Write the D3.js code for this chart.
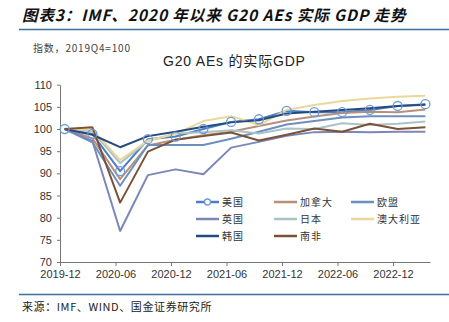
<!DOCTYPE html>
<html>
<head>
<meta charset="utf-8">
<script src="https://cdn.jsdelivr.net/npm/d3@7"></script>
<style>
body { margin: 0; background: #fff; }
svg { display: block; }
</style>
</head>
<body>
<svg id="chart"></svg>
<script>
var width = 449, height = 322;

// quarters 2019Q4 .. 2023Q1, index 2019Q4 = 100
var quarters = ["2019Q4","2020Q1","2020Q2","2020Q3","2020Q4","2021Q1","2021Q2","2021Q3","2021Q4","2022Q1","2022Q2","2022Q3","2022Q4","2023Q1"];
var tickLabels = ["2019-12","2020-06","2020-12","2021-06","2021-12","2022-06","2022-12"];
var yTicks = [70, 75, 80, 85, 90, 95, 100, 105, 110];

var usa       = [100, 98.9, 90.5, 97.7, 98.3, 100.0, 101.6, 102.2, 104.1, 103.8, 103.8, 104.3, 105.2, 105.6];
var canada    = [100, 97.9, 88.7, 96.3, 97.6, 98.6, 99.4, 100.7, 101.9, 102.8, 103.6, 103.9, 103.8, 104.4];
var eu        = [100, 97.0, 87.2, 96.4, 96.4, 96.4, 97.8, 99.4, 101.0, 101.8, 102.6, 102.9, 102.9, 102.9];
var uk        = [100, 97.3, 77.0, 89.6, 90.9, 89.8, 95.8, 97.1, 98.5, 99.3, 99.4, 99.3, 99.4, 99.4];
var japan     = [100, 99.5, 92.3, 97.3, 99.0, 99.3, 99.7, 99.0, 100.1, 100.0, 101.3, 100.9, 101.2, 101.7];
var australia = [100, 99.9, 93.0, 97.4, 98.9, 101.8, 102.9, 100.9, 104.3, 105.4, 106.3, 106.9, 107.3, 107.5];
var korea     = [100, 98.7, 95.9, 98.4, 99.4, 100.5, 101.5, 102.0, 103.5, 103.9, 104.3, 104.7, 105.2, 105.5];
var safrica   = [100, 100.4, 83.4, 94.9, 97.6, 98.4, 99.2, 97.4, 98.7, 100.1, 99.4, 101.2, 100.0, 100.4];

var names  = ["美国","加拿大","欧盟","英国","日本","澳大利亚","韩国","南非"];
var values = [usa, canada, eu, uk, japan, australia, korea, safrica];
var colorsArray = ["#4a7fc4","#b8907a","#6b90c0","#7c87b9","#aac3c8","#ead89a","#254a80","#7d5136"];

var svg = d3.select("#chart").attr("width", width).attr("height", height)
  .attr("viewBox", [0, 0, width, height]);

// months since 2019-12; quarterly points sit half a month right of the tick
var x = d3.scaleLinear().domain([0, 40]).range([60, 430]);
var y = d3.scaleLinear().domain([70, 110]).range([262, 84.7]);
var xPos = (d, i) => x(3 * i + 0.5);

// header
svg.append("text")
  .attr("x", 22).attr("y", 21)
  .attr("font-family", "Noto Sans CJK SC, sans-serif")
  .attr("font-size", 15.5).attr("font-weight", "bold").attr("font-style", "italic")
  .attr("letter-spacing", 0.9)
  .attr("fill", "#111")
  .text("图表3：IMF、2020 年以来 G20 AEs 实际 GDP 走势");

svg.append("line").attr("x1", 19).attr("x2", 449).attr("y1", 29.5).attr("y2", 29.5)
  .attr("stroke", "#3d6f9d").attr("stroke-width", 1.5);

svg.append("text")
  .attr("x", 33).attr("y", 52)
  .attr("font-family", "Noto Sans CJK SC, sans-serif")
  .attr("font-size", 10).attr("letter-spacing", 0.8).attr("fill", "#444")
  .text("指数，2019Q4=100");

svg.append("text")
  .attr("x", 163).attr("y", 66)
  .attr("font-family", "Liberation Sans, Noto Sans CJK SC, sans-serif")
  .attr("font-size", 14).attr("letter-spacing", 0.8).attr("fill", "#222")
  .text("G20 AEs 的实际GDP");

// axes
var yAxis = g => g
  .attr("transform", `translate(60,0)`)
  .call(d3.axisLeft(y).tickValues(yTicks).tickSize(3).tickPadding(5).tickSizeOuter(0))
  .call(g => g.selectAll("path, line").attr("stroke", "#777"))
  .call(g => g.selectAll("text").attr("font-family", "Liberation Sans, Arial, sans-serif")
    .attr("font-size", 11).attr("fill", "#333"));

var xAxis = g => g
  .attr("transform", `translate(0,262)`)
  .call(d3.axisBottom(x).tickValues(d3.range(0, 37, 6))
    .tickFormat((d, i) => tickLabels[i]).tickSize(4).tickPadding(4).tickSizeOuter(0))
  .call(g => g.selectAll("path, line").attr("stroke", "#777"))
  .call(g => g.selectAll("text").attr("font-family", "Liberation Sans, Arial, sans-serif")
    .attr("font-size", 11).attr("fill", "#333"));

svg.append("g").call(yAxis);
svg.append("g").call(xAxis);

// lines
var line = d3.line().x(xPos).y(d => y(d));

svg.append("g")
  .selectAll("path")
  .data(values)
  .join("path")
  .attr("fill", "none")
  .attr("stroke", (d, i) => colorsArray[i])
  .attr("stroke-width", 2)
  .attr("stroke-linejoin", "round")
  .attr("d", line);

// US markers
svg.append("g")
  .selectAll("circle")
  .data(usa)
  .join("circle")
  .attr("cx", xPos)
  .attr("cy", d => y(d))
  .attr("r", 4.5)
  .attr("fill", "none")
  .attr("stroke", "#6e9ad4")
  .attr("stroke-width", 1.3);

// legend
var legendCols = [196, 274, 351];
var legendRows = [202, 219, 236];
var legend = svg.append("g")
  .selectAll("g")
  .data(names)
  .join("g")
  .attr("transform", (d, i) => `translate(${legendCols[i % 3]},${legendRows[Math.floor(i / 3)]})`);

legend.append("line")
  .attr("x1", 0).attr("x2", 23)
  .attr("stroke", (d, i) => colorsArray[i])
  .attr("stroke-width", 2.5);

legend.filter((d, i) => i === 0).append("circle")
  .attr("cx", 11.5).attr("r", 3)
  .attr("fill", "#fff").attr("stroke", "#6e9ad4").attr("stroke-width", 1.3);

legend.append("text")
  .attr("x", 26).attr("dy", "0.35em")
  .attr("font-family", "Noto Sans CJK SC, sans-serif")
  .attr("font-size", 10).attr("letter-spacing", 1).attr("fill", "#333")
  .text(d => d);

// footer
svg.append("line").attr("x1", 19).attr("x2", 449).attr("y1", 294.5).attr("y2", 294.5)
  .attr("stroke", "#3d6f9d").attr("stroke-width", 1.5);

svg.append("text")
  .attr("x", 22).attr("y", 311)
  .attr("font-family", "Noto Sans CJK SC, sans-serif")
  .attr("font-size", 11).attr("letter-spacing", 0.6).attr("fill", "#222")
  .text("来源：IMF、WIND、国金证券研究所");
</script>
</body>
</html>
